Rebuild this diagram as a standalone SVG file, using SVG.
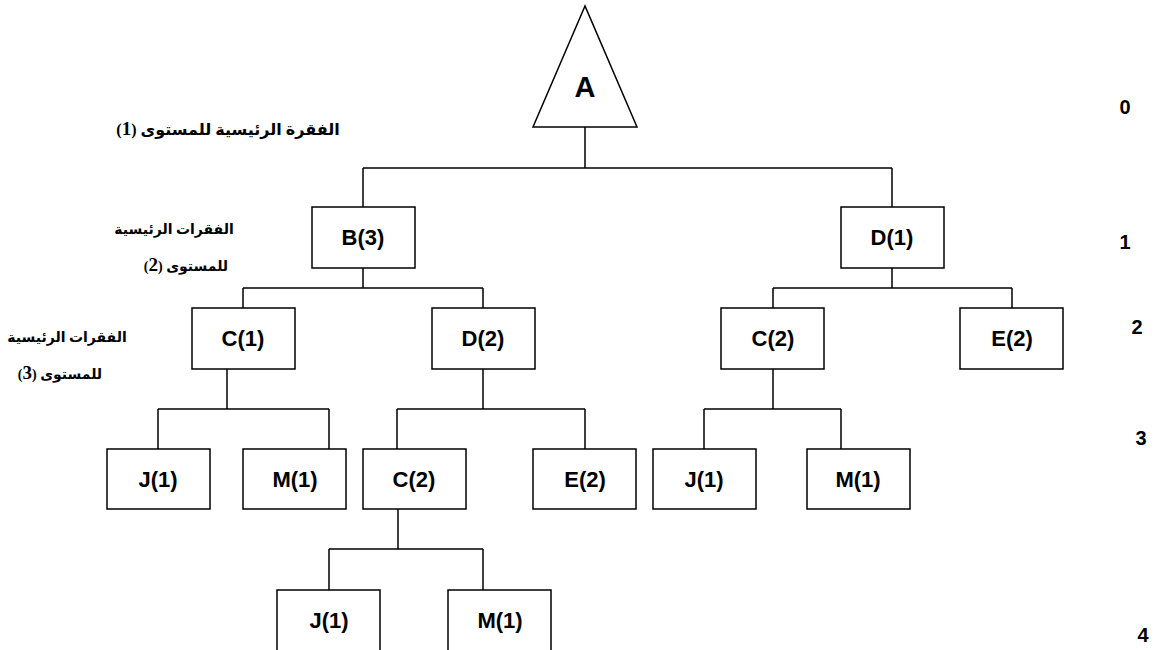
<svg xmlns="http://www.w3.org/2000/svg" width="1158" height="650" viewBox="0 0 1158 650">
<style>
.box{fill:#fff;stroke:#000;stroke-width:1.5}
.lbl{font-family:"Liberation Sans",Arial,sans-serif;font-weight:bold;font-size:22px;text-anchor:middle;fill:#000}
.lvl{font-family:"Liberation Sans",Arial,sans-serif;font-weight:bold;font-size:20px;text-anchor:middle;fill:#000}
.ar{font-family:"Liberation Serif","DejaVu Sans",serif;font-weight:bold;font-size:16px;text-anchor:middle;fill:#000}
.ar2{font-size:14px}
.num{font-family:"Liberation Serif",serif;font-size:19px}
.con{fill:none;stroke:#000;stroke-width:1.5}
</style>
<rect width="1158" height="650" fill="#fff"/>
<g id="connectors" class="con">
<path d="M585,127V168M363,168H892M363,168V207M892,168V207"/>
<path d="M363,268V288M243,288H483M243,288V308M483,288V308"/>
<path d="M892,268V288M773,288H1012M773,288V308M1012,288V308"/>
<path d="M227,369V409M158,409H329M158,409V449M329,409V449"/>
<path d="M483,369V409M397,409H585M397,409V449M585,409V449"/>
<path d="M773,369V409M704,409H841M704,409V449M841,409V449"/>
<path d="M398,509V549M329,549H483M329,549V590M483,549V590"/>
</g>
<g id="A"><path class="box" d="M585,6L533,127H637Z"/><text class="lbl" x="585" y="97" style="font-size:29px">A</text></g>
<g id="B3"><rect class="box" x="312" y="207" width="103" height="61"/><text class="lbl" x="363" y="245">B(3)</text></g>
<g id="D1"><rect class="box" x="841" y="207" width="103" height="61"/><text class="lbl" x="892" y="245">D(1)</text></g>
<g id="C1"><rect class="box" x="192" y="308" width="103" height="61"/><text class="lbl" x="243" y="346">C(1)</text></g>
<g id="D2"><rect class="box" x="432" y="308" width="103" height="61"/><text class="lbl" x="483" y="346">D(2)</text></g>
<g id="C2r"><rect class="box" x="721" y="308" width="103" height="61"/><text class="lbl" x="773" y="346">C(2)</text></g>
<g id="E2r"><rect class="box" x="960" y="308" width="103" height="61"/><text class="lbl" x="1012" y="346">E(2)</text></g>
<g id="J1a"><rect class="box" x="107" y="449" width="103" height="60"/><text class="lbl" x="158" y="487">J(1)</text></g>
<g id="M1a"><rect class="box" x="243" y="449" width="103" height="60"/><text class="lbl" x="295" y="487">M(1)</text></g>
<g id="C2"><rect class="box" x="363" y="449" width="103" height="60"/><text class="lbl" x="414" y="487">C(2)</text></g>
<g id="E2"><rect class="box" x="533" y="449" width="103" height="60"/><text class="lbl" x="585" y="487">E(2)</text></g>
<g id="J1r"><rect class="box" x="653" y="449" width="103" height="60"/><text class="lbl" x="704" y="487">J(1)</text></g>
<g id="M1r"><rect class="box" x="807" y="449" width="103" height="60"/><text class="lbl" x="858" y="487">M(1)</text></g>
<g id="J1b"><rect class="box" x="277" y="590" width="103" height="61"/><text class="lbl" x="329" y="628">J(1)</text></g>
<g id="M1b"><rect class="box" x="448" y="590" width="103" height="61"/><text class="lbl" x="500" y="628">M(1)</text></g>
<g id="levels">
<text class="lvl" x="1125" y="114">0</text>
<text class="lvl" x="1125" y="249">1</text>
<text class="lvl" x="1137" y="334">2</text>
<text class="lvl" x="1141" y="445">3</text>
<text class="lvl" x="1143" y="642">4</text>
</g>
<g id="labels">
<text class="ar" x="228" y="135" direction="rtl" unicode-bidi="embed">الفقرة الرئيسية للمستوى (<tspan class="num">1</tspan>)</text>
<text class="ar ar2" x="174" y="234" direction="rtl" unicode-bidi="embed">الفقرات الرئيسية</text>
<text class="ar ar2" x="186" y="271" direction="rtl" unicode-bidi="embed">للمستوى (<tspan class="num">2</tspan>)</text>
<text class="ar ar2" x="67" y="342" direction="rtl" unicode-bidi="embed">الفقرات الرئيسية</text>
<text class="ar ar2" x="60" y="379" direction="rtl" unicode-bidi="embed">للمستوى (<tspan class="num">3</tspan>)</text>
</g>
</svg>
